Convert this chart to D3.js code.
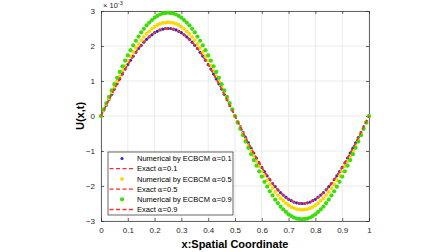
<!DOCTYPE html>
<html>
<head>
<meta charset="utf-8">
<script src="https://cdn.jsdelivr.net/npm/d3@7"></script>
<style>
  body { margin: 0; background: #fff; }
  text { font-family: "Liberation Sans", Arial, sans-serif; }
</style>
</head>
<body>
<svg id="chart" width="448" height="252"></svg>
<script>
// x grid of the solution (0..1, step 0.01)
const xs = d3.range(0, 101).map(i => i / 100);

// values in units of 1e-3
const numAlpha01 = [0, 0.16, 0.31, 0.47, 0.62, 0.77, 0.92, 1.06, 1.20, 1.34, 1.47, 1.59, 1.71, 1.82, 1.93, 2.02, 2.11, 2.19, 2.26, 2.32, 2.38, 2.42, 2.46, 2.48, 2.50, 2.50,
  2.50, 2.48, 2.46, 2.42, 2.38, 2.32, 2.26, 2.19, 2.11, 2.02, 1.93, 1.82, 1.71, 1.59, 1.47, 1.34, 1.20, 1.06, 0.92, 0.77, 0.62, 0.47, 0.31, 0.16, 0,
  -0.16, -0.31, -0.47, -0.62, -0.77, -0.92, -1.06, -1.20, -1.34, -1.47, -1.59, -1.71, -1.82, -1.93, -2.02, -2.11, -2.19, -2.26, -2.32, -2.38, -2.42, -2.46, -2.48, -2.50, -2.50,
  -2.50, -2.48, -2.46, -2.42, -2.38, -2.32, -2.26, -2.19, -2.11, -2.02, -1.93, -1.82, -1.71, -1.59, -1.47, -1.34, -1.20, -1.06, -0.92, -0.77, -0.62, -0.47, -0.31, -0.16, 0];

const numAlpha05 = [0, 0.17, 0.34, 0.50, 0.67, 0.83, 0.99, 1.14, 1.29, 1.44, 1.58, 1.71, 1.83, 1.95, 2.06, 2.17, 2.26, 2.35, 2.42, 2.49, 2.55, 2.60, 2.63, 2.66, 2.67, 2.68,
  2.67, 2.66, 2.63, 2.60, 2.55, 2.49, 2.42, 2.35, 2.26, 2.17, 2.06, 1.95, 1.83, 1.71, 1.58, 1.44, 1.29, 1.14, 0.99, 0.83, 0.67, 0.50, 0.34, 0.17, 0,
  -0.17, -0.34, -0.50, -0.67, -0.83, -0.99, -1.14, -1.29, -1.44, -1.58, -1.71, -1.83, -1.95, -2.06, -2.17, -2.26, -2.35, -2.42, -2.49, -2.55, -2.60, -2.63, -2.66, -2.67, -2.68,
  -2.67, -2.66, -2.63, -2.60, -2.55, -2.49, -2.42, -2.35, -2.26, -2.17, -2.06, -1.95, -1.83, -1.71, -1.58, -1.44, -1.29, -1.14, -0.99, -0.83, -0.67, -0.50, -0.34, -0.17, 0];

const numAlpha09 = [0, 0.19, 0.37, 0.55, 0.73, 0.91, 1.09, 1.26, 1.42, 1.58, 1.73, 1.88, 2.02, 2.15, 2.27, 2.39, 2.49, 2.59, 2.67, 2.74, 2.81, 2.86, 2.90, 2.93, 2.94, 2.95,
  2.94, 2.93, 2.90, 2.86, 2.81, 2.74, 2.67, 2.59, 2.49, 2.39, 2.27, 2.15, 2.02, 1.88, 1.73, 1.58, 1.42, 1.26, 1.09, 0.91, 0.73, 0.55, 0.37, 0.19, 0,
  -0.19, -0.37, -0.55, -0.73, -0.91, -1.09, -1.26, -1.42, -1.58, -1.73, -1.88, -2.02, -2.15, -2.27, -2.39, -2.49, -2.59, -2.67, -2.74, -2.81, -2.86, -2.90, -2.93, -2.94, -2.95,
  -2.94, -2.93, -2.90, -2.86, -2.81, -2.74, -2.67, -2.59, -2.49, -2.39, -2.27, -2.15, -2.02, -1.88, -1.73, -1.58, -1.42, -1.26, -1.09, -0.91, -0.73, -0.55, -0.37, -0.19, 0];

// exact solution drawn for every alpha (the three dashed lines coincide)
const exactSol = [0, 0.16, 0.31, 0.47, 0.62, 0.77, 0.92, 1.06, 1.20, 1.34, 1.47, 1.59, 1.71, 1.82, 1.93, 2.02, 2.11, 2.19, 2.26, 2.32, 2.38, 2.42, 2.46, 2.48, 2.50, 2.50,
  2.50, 2.48, 2.46, 2.42, 2.38, 2.32, 2.26, 2.19, 2.11, 2.02, 1.93, 1.82, 1.71, 1.59, 1.47, 1.34, 1.20, 1.06, 0.92, 0.77, 0.62, 0.47, 0.31, 0.16, 0,
  -0.16, -0.31, -0.47, -0.62, -0.77, -0.92, -1.06, -1.20, -1.34, -1.47, -1.59, -1.71, -1.82, -1.93, -2.02, -2.11, -2.19, -2.26, -2.32, -2.38, -2.42, -2.46, -2.48, -2.50, -2.50,
  -2.50, -2.48, -2.46, -2.42, -2.38, -2.32, -2.26, -2.19, -2.11, -2.02, -1.93, -1.82, -1.71, -1.59, -1.47, -1.34, -1.20, -1.06, -0.92, -0.77, -0.62, -0.47, -0.31, -0.16, 0];

const alphas = ["0.1", "0.5", "0.9"];
const xTicks = [0, 0.1, 0.2, 0.3, 0.4, 0.5, 0.6, 0.7, 0.8, 0.9, 1];
const yTicks = [-3, -2, -1, 0, 1, 2, 3];

const series = [
  {kind: "dot", values: numAlpha01, color: "#1a2fd9", r: 1.6, label: "Numerical by ECBCM ", alpha: alphas[0]},
  {kind: "line", values: exactSol, color: "#ff2a2a", label: "Exact ", alpha: alphas[0]},
  {kind: "dot", values: numAlpha05, color: "#ffd700", r: 1.9, label: "Numerical by ECBCM ", alpha: alphas[1]},
  {kind: "line", values: exactSol, color: "#ff2a2a", label: "Exact ", alpha: alphas[1]},
  {kind: "dot", values: numAlpha09, color: "#3ddc0a", r: 2.1, label: "Numerical by ECBCM ", alpha: alphas[2]},
  {kind: "line", values: exactSol, color: "#ff2a2a", label: "Exact ", alpha: alphas[2]}
];

const svg = d3.select("#chart");
const plotL = 101, plotR = 369, plotT = 11, plotB = 221;

const x = d3.scaleLinear().domain([0, 1]).range([plotL, plotR]);
const y = d3.scaleLinear().domain([-3, 3]).range([plotB, plotT]);

// grid
svg.append("g").selectAll("line").data(xTicks).join("line")
  .attr("x1", d => x(d)).attr("x2", d => x(d))
  .attr("y1", plotT).attr("y2", plotB)
  .attr("stroke", "#e3e3e3").attr("stroke-width", 0.7);
svg.append("g").selectAll("line").data(yTicks).join("line")
  .attr("x1", plotL).attr("x2", plotR)
  .attr("y1", d => y(d)).attr("y2", d => y(d))
  .attr("stroke", "#e3e3e3").attr("stroke-width", 0.7);

// axes (ticks inside, box on all sides)
const axisColor = "#262626";
function styleAxis(g) {
  g.selectAll("path").attr("stroke", axisColor).attr("stroke-width", 0.7);
  g.selectAll("line").attr("stroke", axisColor).attr("stroke-width", 0.7);
  g.selectAll("text").attr("fill", axisColor).style("font-size", "8px")
    .style("font-family", "Liberation Sans, Arial, sans-serif");
}
svg.append("g").attr("transform", `translate(0,${plotB})`)
  .call(d3.axisBottom(x).tickValues(xTicks).tickFormat(d3.format("")).tickSizeInner(-3).tickSizeOuter(0).tickPadding(6))
  .call(styleAxis);
svg.append("g").attr("transform", `translate(0,${plotT})`)
  .call(d3.axisTop(x).tickValues(xTicks).tickFormat("").tickSizeInner(-3).tickSizeOuter(0))
  .call(styleAxis);
svg.append("g").attr("transform", `translate(${plotL},0)`)
  .call(d3.axisLeft(y).tickValues(yTicks).tickFormat(d3.format("")).tickSizeInner(-3).tickSizeOuter(0).tickPadding(6))
  .call(styleAxis);
svg.append("g").attr("transform", `translate(${plotR},0)`)
  .call(d3.axisRight(y).tickValues(yTicks).tickFormat("").tickSizeInner(-3).tickSizeOuter(0))
  .call(styleAxis);

// exponent label
const expo = svg.append("text").attr("x", plotL + 2).attr("y", 8)
  .attr("fill", axisColor).style("font-size", "7.5px");
expo.append("tspan").text("\u00d7 10");
expo.append("tspan").attr("dy", -3).style("font-size", "5.5px").text("-3");

// data
const line = d3.line().x((d, i) => x(xs[i])).y(d => y(d));
series.forEach(s => {
  if (s.kind === "line") {
    svg.append("path").datum(s.values).attr("d", line)
      .attr("fill", "none").attr("stroke", s.color)
      .attr("stroke-width", 1.3).attr("stroke-dasharray", "4,2.5");
  } else {
    svg.append("g").selectAll("circle").data(s.values).join("circle")
      .attr("cx", (d, i) => x(xs[i])).attr("cy", d => y(d))
      .attr("r", s.r).attr("fill", s.color);
  }
});

// axis labels
svg.append("text").attr("x", (plotL + plotR) / 2).attr("y", 247.5)
  .attr("text-anchor", "middle").attr("font-weight", "bold")
  .style("font-size", "11px").attr("fill", "#000").text("x:Spatial Coordinate");
svg.append("text").attr("transform", `translate(84,${y(0)}) rotate(-90)`)
  .attr("text-anchor", "middle").attr("font-weight", "bold")
  .style("font-size", "11px").attr("fill", "#000").text("U(x,t)");

// legend
const lg = svg.append("g").attr("transform", "translate(108,152)");
lg.append("rect").attr("width", 125).attr("height", 63)
  .attr("fill", "#fff").attr("stroke", axisColor).attr("stroke-width", 0.7);
series.forEach((s, i) => {
  const yy = 6.5 + i * 10.2;
  if (s.kind === "line") {
    lg.append("line").attr("x1", 1.5).attr("x2", 27).attr("y1", yy).attr("y2", yy)
      .attr("stroke", s.color).attr("stroke-width", 1.3).attr("stroke-dasharray", "4,2.5");
  } else {
    lg.append("circle").attr("cx", 14).attr("cy", yy).attr("r", s.r).attr("fill", s.color);
  }
  const t = lg.append("text").attr("x", 29).attr("y", yy + 2.7)
    .style("font-size", "7.5px").attr("fill", "#000");
  t.append("tspan").text(s.label);
  t.append("tspan").style("font-family", "DejaVu Serif, serif").style("font-size", "7px").text("\u03b1");
  t.append("tspan").text("=" + s.alpha);
});
</script>
</body>
</html>
